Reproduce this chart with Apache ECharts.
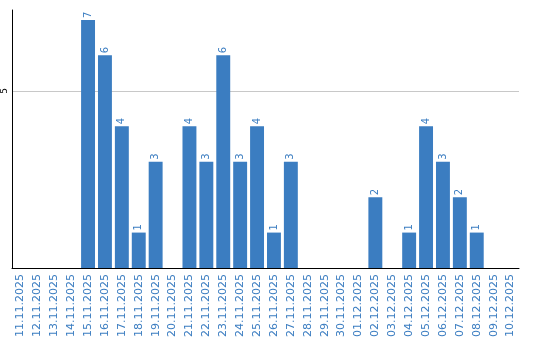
<!DOCTYPE html>
<html><head><meta charset="utf-8">
<script src="https://cdn.jsdelivr.net/npm/echarts@6/dist/echarts.min.js"></script>
<style>html,body{margin:0;padding:0;background:#fff}#c{width:540px;height:340px}</style>
</head><body><div id="c"></div>
<script>
const categories = ['11.11.2025','12.11.2025','13.11.2025','14.11.2025','15.11.2025','16.11.2025','17.11.2025','18.11.2025','19.11.2025','20.11.2025','21.11.2025','22.11.2025','23.11.2025','24.11.2025','25.11.2025','26.11.2025','27.11.2025','28.11.2025','29.11.2025','30.11.2025','01.12.2025','02.12.2025','03.12.2025','04.12.2025','05.12.2025','06.12.2025','07.12.2025','08.12.2025','09.12.2025','10.12.2025'];
const values = [0,0,0,0,7,6,4,1,3,0,4,3,6,3,4,1,3,0,0,0,0,2,0,1,4,3,2,1,0,0];
const yTickLabels = ['5'];

const blue = '#3b7dc1';
const chart = echarts.init(document.getElementById('c'), null, {renderer:'canvas'});
chart.setOption({
  animation: false,
  grid: {left: 9, right: 21, top: 10, bottom: 71, containLabel: false},
  xAxis: {
    type: 'category', data: categories,
    axisLine: {lineStyle: {color: '#000', width: 1}},
    axisTick: {show: false},
    axisLabel: {interval: 0, rotate: 90, color: blue, fontFamily: 'DejaVu Sans', fontSize: 11, margin: 6}
  },
  yAxis: {
    type: 'value', min: 0, max: 7.28, interval: 5,
    axisLine: {show: true, lineStyle: {color: '#000', width: 1}},
    axisTick: {show: false},
    splitLine: {show: true, showMinLine: false, showMaxLine: false, lineStyle: {color: '#c8c8c8'}},
    axisLabel: {
      rotate: 90, color: '#000', fontFamily: 'DejaVu Sans', fontSize: 9, margin: 3,
      formatter: v => yTickLabels.includes(String(v)) ? String(v) : ''
    }
  },
  series: [{
    type: 'bar', data: values, barCategoryGap: '17.6%',
    itemStyle: {color: blue},
    label: {
      show: true, position: 'top', rotate: 90, align: 'left', verticalAlign: 'middle',
      distance: 2, color: blue, fontFamily: 'DejaVu Sans', fontSize: 10,
      formatter: p => p.value ? String(p.value) : ''
    }
  }]
});
</script></body></html>
